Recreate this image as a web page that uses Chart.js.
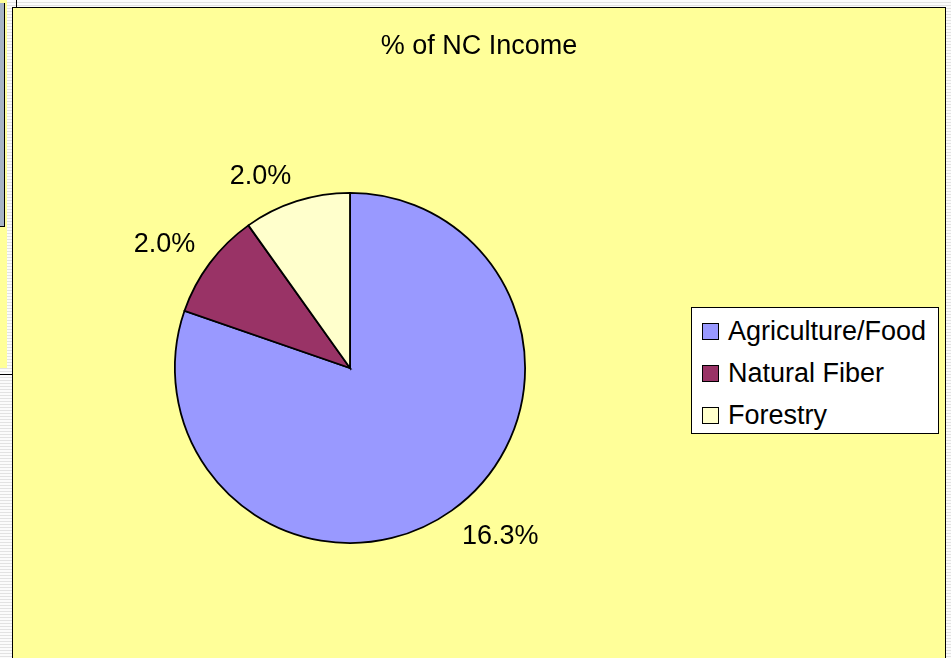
<!DOCTYPE html>
<html><head><meta charset="utf-8">
<script src="https://cdn.jsdelivr.net/npm/chart.js@4/dist/chart.umd.min.js"></script>
<style>
html,body{margin:0;padding:0;width:951px;height:658px;overflow:hidden;}
body{position:relative;background:repeating-linear-gradient(to bottom,#fbfbfb 0,#fbfbfb 2px,#e2e2e2 2px,#e2e2e2 3px);font-family:"Liberation Sans",Arial,sans-serif;}
#leftY{position:absolute;left:0;top:0;width:7px;height:368px;background:#FFFF99;}
#leftB{position:absolute;left:0;top:3px;width:4px;height:223px;background:#A6B4C6;border-right:1px solid #000;border-bottom:1px solid #000;}
#leftL{position:absolute;left:0;top:374px;width:12px;height:1px;background:#000;}
#topL{position:absolute;left:16px;top:0;width:1px;height:7px;background:#000;}
#panel{position:absolute;left:12px;top:7px;width:934px;height:720px;box-sizing:border-box;border:1px solid #000;background:#FFFF99;}
#wrap{position:absolute;left:13px;top:8px;width:932px;height:700px;}
#legend{position:absolute;left:691px;top:307px;width:248px;height:127px;box-sizing:border-box;border:1px solid #000;background:#fff;}
.row{position:absolute;left:0;height:30px;line-height:30px;font-size:27px;color:#000;white-space:nowrap;}
.sw{position:absolute;left:10px;top:7px;width:15px;height:15px;border:1px solid #000;}
.tx{position:absolute;left:36px;top:0;}
</style></head>
<body>
<div id="leftY"></div><div id="leftB"></div><div id="leftL"></div><div id="topL"></div>
<div id="panel"></div>
<div id="wrap"><canvas id="cv"></canvas></div>
<div id="legend"></div>
<script>
const titleText = "% of NC Income";
const categories = ["Agriculture/Food", "Natural Fiber", "Forestry"];
const values = [16.3, 2.0, 2.0];
const valueLabels = ["16.3%", "2.0%", "2.0%"];
const colors = ["#9999FF", "#993366", "#FFFFCC"];

// legend
const lg = document.getElementById('legend');
categories.forEach((c, i) => {
  const row = document.createElement('div');
  row.className = 'row';
  row.style.top = (8 + i * 42) + 'px';
  row.innerHTML = '<span class="sw" style="background:' + colors[i] + '"></span><span class="tx"></span>';
  row.querySelector('.tx').textContent = c;
  lg.appendChild(row);
});

const FONT = '27px "Liberation Sans", Arial, sans-serif';

const titlePlugin = {
  id: 'centerTitle',
  afterDraw(chart) {
    const ctx = chart.ctx;
    ctx.save();
    ctx.font = FONT;
    ctx.fillStyle = '#000';
    ctx.textAlign = 'center';
    ctx.textBaseline = 'alphabetic';
    ctx.fillText(titleText, chart.width / 2, 46);
    ctx.restore();
  }
};

const labelPlugin = {
  id: 'outLabels',
  afterDatasetsDraw(chart) {
    const ctx = chart.ctx;
    const meta = chart.getDatasetMeta(0);
    ctx.save();
    ctx.font = FONT;
    ctx.fillStyle = '#000';
    ctx.textBaseline = 'alphabetic';
    meta.data.forEach((arc, i) => {
      const mid = (arc.startAngle + arc.endAngle) / 2;
      const R = arc.outerRadius + 18;
      const cx = Math.cos(mid), sy = Math.sin(mid);
      const px = arc.x + cx * R, py = arc.y + sy * R;
      ctx.textAlign = cx < 0 ? 'right' : 'left';
      const y = sy < 0 ? py : py + 19;
      ctx.fillText(valueLabels[i], px, y);
    });
    ctx.restore();
  }
};

new Chart(document.getElementById('cv'), {
  type: 'pie',
  data: {
    labels: categories,
    datasets: [{
      data: values,
      backgroundColor: colors,
      borderColor: '#000',
      borderWidth: 1.8,
      borderJoinStyle: 'miter',
      borderAlign: 'center'
    }]
  },
  options: {
    responsive: true,
    maintainAspectRatio: false,
    animation: false,
    layout: { padding: { left: 161, right: 419, top: 184, bottom: 164 } },
    plugins: {
      legend: { display: false },
      tooltip: { enabled: false },
      title: { display: false }
    }
  },
  plugins: [labelPlugin, titlePlugin]
});
</script>
</body></html>
